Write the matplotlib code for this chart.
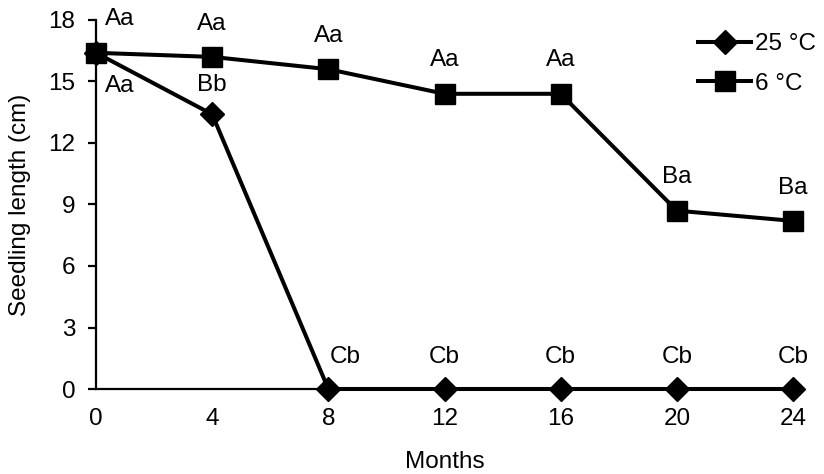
import matplotlib
matplotlib.use("Agg")
import matplotlib.pyplot as plt

plt.rcParams['font.family'] = ['Liberation Sans', 'DejaVu Sans']

months = [0, 4, 8, 12, 16, 20, 24]
length_25c = [16.4, 13.4, 0, 0, 0, 0, 0]
length_6c = [16.4, 16.2, 15.6, 14.4, 14.4, 8.7, 8.2]
letters_25c = ["Aa", "Bb", "Cb", "Cb", "Cb", "Cb", "Cb"]
letters_6c = ["Aa", "Aa", "Aa", "Aa", "Aa", "Ba", "Ba"]
y_ticks = [0, 3, 6, 9, 12, 15, 18]

fs = 17.5
fig = plt.figure(figsize=(8.24, 4.74), dpi=100)
ax = fig.add_axes([96 / 824, 1 - 389 / 474, (793 - 96) / 824, (389 - 20) / 474])

ax.plot(months, length_25c, color='black', lw=2.9, marker='D', ms=12,
        label='25 °C', clip_on=False, zorder=3)
ax.plot(months, length_6c, color='black', lw=2.9, marker='s', ms=14,
        label='6 °C', clip_on=False, zorder=4)

# significance letters above each point
for i, (x, y, t) in enumerate(zip(months, length_6c, letters_6c)):
    dx = 17 if i == 0 else 0
    ax.annotate(t, (x, y), xytext=(dx, 24), textcoords='offset points',
                ha='center', va='center', fontsize=fs)
for i, (x, y, t) in enumerate(zip(months, length_25c, letters_25c)):
    if i == 0:
        dx, dy = 17, -24
    elif i == 2:
        dx, dy = 12, 23
    else:
        dx, dy = 0, 21 if i == 1 else 23
    ax.annotate(t, (x, y), xytext=(dx, dy), textcoords='offset points',
                ha='center', va='center', fontsize=fs)

ax.set_xlim(0, 24)
ax.set_ylim(0, 18)
ax.set_xticks(months)
ax.set_yticks(y_ticks)
ax.tick_params(axis='x', length=0, pad=14, labelsize=fs)
ax.tick_params(axis='y', length=6, width=1.6, pad=9, labelsize=fs)
for s in ['top', 'right']:
    ax.spines[s].set_visible(False)
for s in ['left', 'bottom']:
    ax.spines[s].set_linewidth(1.6)

ax.set_xlabel('Months', fontsize=fs, labelpad=14.5)
ax.set_ylabel('Seedling length (cm)', fontsize=fs, labelpad=12)

ax.legend(loc='upper left', bbox_to_anchor=(698 / 824, 0.93),
          bbox_transform=fig.transFigure, frameon=False, fontsize=fs,
          handlelength=2.2, handletextpad=0.15, labelspacing=0.72,
          borderaxespad=0, borderpad=0)

fig.savefig('out.png', dpi=100)
